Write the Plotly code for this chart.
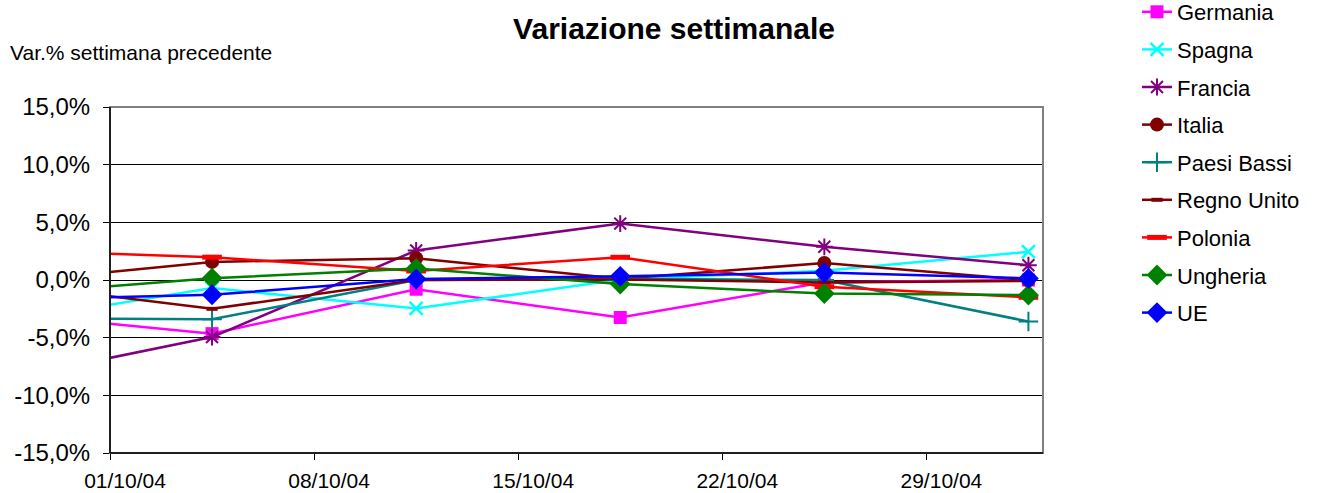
import plotly.graph_objects as go

dates = ["2004-09-27", "2004-10-04", "2004-10-11", "2004-10-18", "2004-10-25", "2004-11-01"]

germania = [-2.95, -4.65, -0.80, -3.25, -0.20, 0.00]
spagna = [-3.60, -0.70, -2.47, 0.05, 0.80, 2.45]
francia = [-8.55, -4.95, 2.56, 4.89, 2.88, 1.28]
italia = [-0.17, 1.57, 1.89, 0.10, 1.47, -0.02]
paesi_bassi = [-3.34, -3.40, 0.00, 0.10, 0.00, -3.60]
regno_unito = [-0.30, -2.50, 0.00, 0.05, -0.22, -0.08]
polonia = [2.56, 1.98, 0.78, 1.97, -0.58, -1.50]
ungheria = [-1.25, 0.15, 1.00, -0.35, -1.18, -1.30]
ue = [-1.72, -1.28, 0.08, 0.32, 0.64, 0.14]

series_names = ["Germania", "Spagna", "Francia", "Italia", "Paesi Bassi",
                "Regno Unito", "Polonia", "Ungheria", "UE"]
series_values = [germania, spagna, francia, italia, paesi_bassi,
                 regno_unito, polonia, ungheria, ue]

x_tick_positions = ["2004-09-30 12:00", "2004-10-07 12:00", "2004-10-14 12:00",
                    "2004-10-21 12:00", "2004-10-28 12:00"]
x_tick_labels = ["01/10/04", "08/10/04", "15/10/04", "22/10/04", "29/10/04"]

y_tick_values = [-0.15, -0.10, -0.05, 0.0, 0.05, 0.10, 0.15]
y_tick_labels = ["-15,0%", "-10,0%", "-5,0%", "0,0%", "5,0%", "10,0%", "15,0%"]

styles = {
    "Germania": dict(color="#FF00FF", symbol="square", size=13, lw=0),
    "Spagna": dict(color="#00FFFF", symbol="x-thin", size=13, lw=2.5),
    "Francia": dict(color="#800080", symbol="asterisk", size=14, lw=2),
    "Italia": dict(color="#800000", symbol="circle", size=14, lw=0),
    "Paesi Bassi": dict(color="#008080", symbol="cross-thin", size=14, lw=2),
    "Regno Unito": dict(color="#800000", symbol="line-ew", size=8, lw=4),
    "Polonia": dict(color="#FF0000", symbol="line-ew", size=14, lw=5),
    "Ungheria": dict(color="#008000", symbol="diamond", size=16, lw=0),
    "UE": dict(color="#0000FF", symbol="diamond", size=16, lw=0),
}

fig = go.Figure()
for name, vals in zip(series_names, series_values):
    s = styles[name]
    fig.add_trace(go.Scatter(
        x=dates, y=[v / 100 for v in vals], name=name, mode="lines+markers",
        legendgroup=name,
        line=dict(color=s["color"], width=2.5),
        marker=dict(symbol=s["symbol"], size=s["size"], color=s["color"],
                    line=dict(color=s["color"], width=s["lw"])),
    ))

fig.update_layout(
    width=1326, height=493,
    margin=dict(l=110, r=283, t=107, b=40, autoexpand=False),
    paper_bgcolor="white", plot_bgcolor="white",
    font=dict(family="Liberation Sans, Arial, sans-serif", color="black"),
    title=dict(text="<b>Variazione settimanale</b>", font=dict(size=30),
               xref="container", yref="container",
               x=674 / 1326, xanchor="center", y=1 - 28 / 493, yanchor="middle"),
    showlegend=True,
    legend=dict(xref="paper", yref="paper",
                x=(1137 - 110) / 933, xanchor="left", y=1 + (107 + 9) / 346, yanchor="top",
                font=dict(size=22), tracegroupgap=6, maxheight=520,
                bgcolor="rgba(0,0,0,0)", itemwidth=30),
    annotations=[
        dict(text="Var.% settimana precedente", xref="paper", yref="paper",
             x=(8 - 110) / 933, y=1 + (107 - 52) / 346, xanchor="left", yanchor="middle",
             showarrow=False, font=dict(size=21)),
    ],
    shapes=[
        dict(type="rect", xref="paper", yref="paper", x0=0, x1=1, y0=0, y1=1,
             line=dict(color="#808080", width=2), layer="above"),
        dict(type="line", xref="paper", yref="paper", x0=0, x1=0, y0=0, y1=1,
             line=dict(color="black", width=1.5), layer="above"),
        dict(type="line", xref="paper", yref="paper", x0=0, x1=1, y0=0, y1=0,
             line=dict(color="black", width=1.5), layer="above"),
    ],
)

fig.update_xaxes(
    type="date", range=["2004-09-30 12:00", "2004-11-01 12:00"],
    tickmode="array", tickvals=x_tick_positions, ticktext=x_tick_labels,
    ticks="outside", ticklen=6, tickcolor="black", ticklabelshift=15,
    ticklabelstandoff=3, automargin=False,
    showgrid=False, zeroline=False, showline=False,
    tickfont=dict(size=21),
)
fig.update_yaxes(
    range=[-0.15, 0.15], tickmode="array", tickvals=y_tick_values, ticktext=y_tick_labels,
    ticks="outside", ticklen=6, tickcolor="black", ticklabelstandoff=8,
    automargin=False,
    showgrid=True, gridcolor="black", gridwidth=1,
    zeroline=True, zerolinecolor="black", zerolinewidth=1,
    showline=False, tickfont=dict(size=24),
)

fig.write_html("out.html", config={"displayModeBar": False},
               post_script="document.body.style.margin='0';")
